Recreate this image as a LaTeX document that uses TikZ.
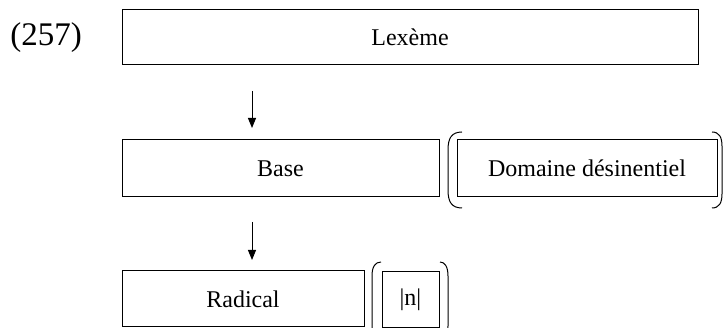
\documentclass[tikz,border=0pt]{standalone}
\usepackage{fontspec}
\setmainfont{Liberation Serif}
\usetikzlibrary{arrows.meta}
\tikzset{
  box/.style={draw, line width=1pt, inner sep=0pt, font=\fontsize{24}{28}\selectfont},
  arr/.style={line width=1pt, -{Triangle[width=8pt,length=10pt]}},
  paren/.style={line width=1pt}
}
\begin{document}
\begin{tikzpicture}[x=1pt,y=-1pt]
\useasboundingbox (0,0) rectangle (723,328);
\clip (0,0) rectangle (723,328);
\node (num) at (46,37.5) {\fontsize{33}{36}\selectfont (257)};
\node[box, minimum width=576pt, minimum height=55pt] (lex) at (410,37.5) {Lexème};
\node[box, minimum width=317pt, minimum height=57pt] (base) at (280.5,168.5) {Base};
\node[box, minimum width=260pt, minimum height=57pt] (dom) at (587,168.5) {Domaine désinentiel};
\node[box, minimum width=242pt, minimum height=56pt] (rad) at (243,299) {Radical};
\node[box, minimum width=57pt, minimum height=56pt] (n) at (410.5,299.5) {|n|};
\coordinate (a1s) at (252,91);
\coordinate (a1e) at (252,128);
\coordinate (a2s) at (252,222);
\coordinate (a2e) at (252,260);
\draw[arr] (a1s) -- (a1e);
\draw[arr] (a2s) -- (a2e);
% parentheses around Domaine
\draw[paren] (462,132) .. controls (451,132) and (448,139) .. (448,150) -- (448,190) .. controls (448,201) and (451,208) .. (462,208);
\draw[paren] (712,132) .. controls (719,132) and (722,137) .. (722,146) -- (722,194) .. controls (722,203) and (719,208) .. (712,208);
% parentheses around |n|
\draw[paren] (381,262) .. controls (375,262) and (372,267) .. (372,276) -- (372,326) .. controls (372,335) and (375,340) .. (381,340);
\draw[paren] (440,262) .. controls (445,262) and (448,267) .. (448,276) -- (448,326) .. controls (448,335) and (445,340) .. (440,340);
\end{tikzpicture}
\end{document}
